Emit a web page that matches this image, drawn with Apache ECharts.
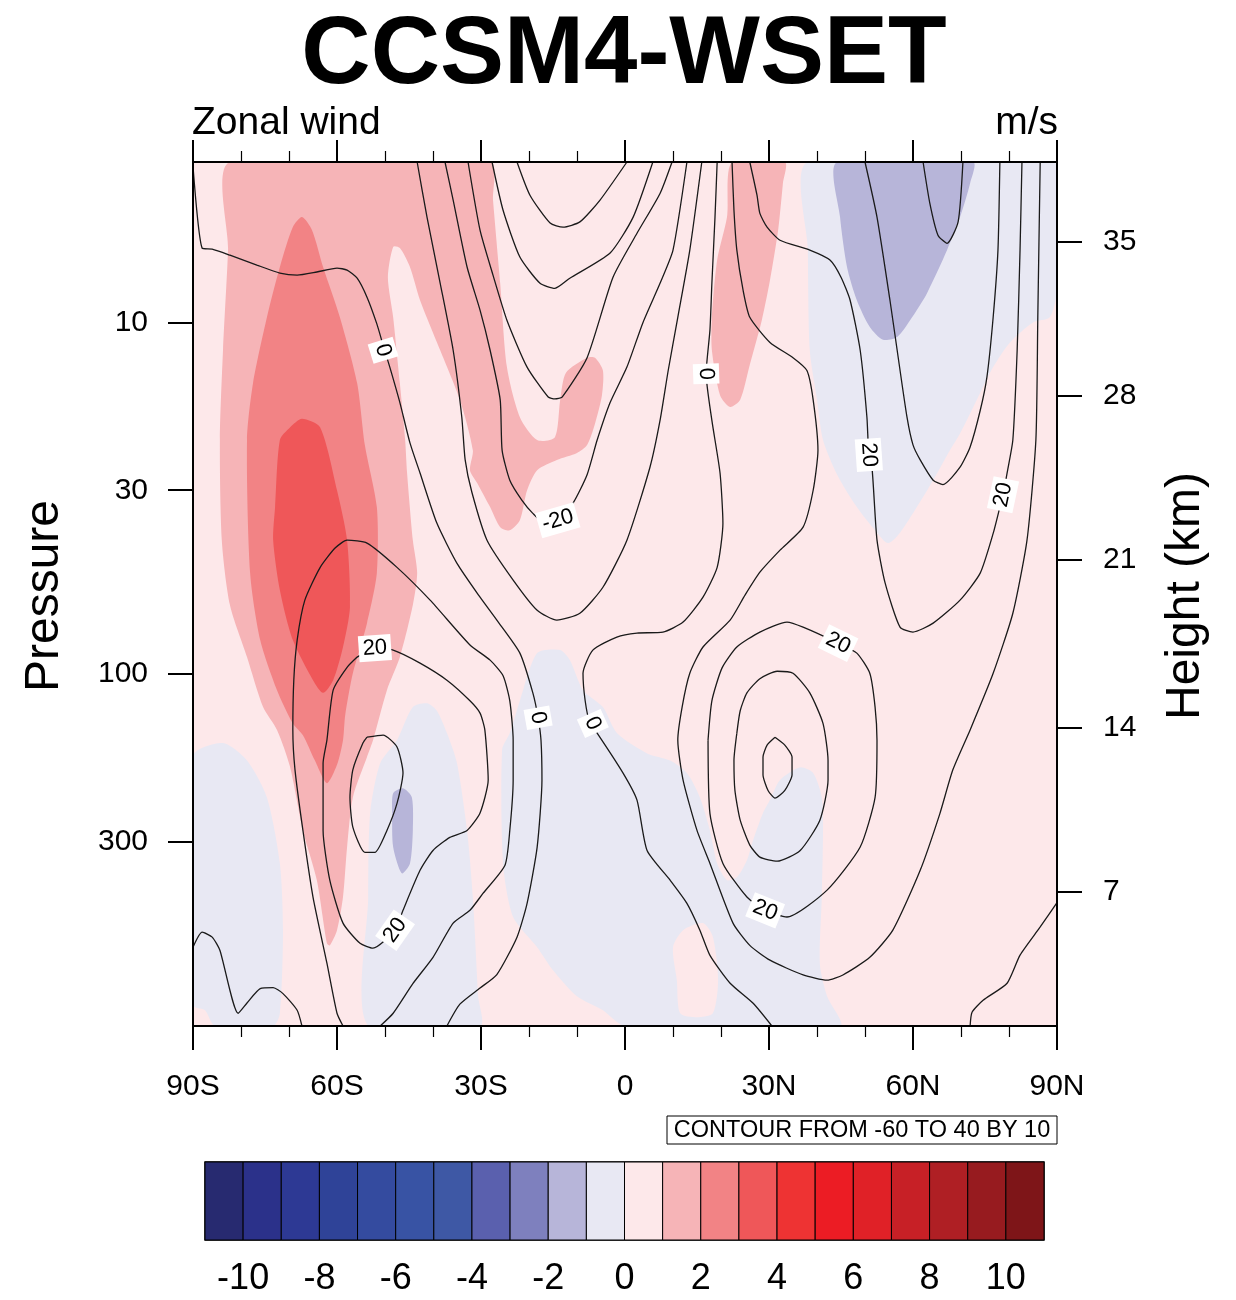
<!DOCTYPE html>
<html><head><meta charset="utf-8">
<script src="https://cdn.jsdelivr.net/npm/echarts@6/dist/echarts.min.js"></script>
<style>html,body{margin:0;padding:0;background:#fff}#c{width:1236px;height:1300px}</style>
</head><body><div id="c"></div>
<script>
// ---------- axes / tick labels ----------
const latTicks = [-90, -60, -30, 0, 30, 60, 90];
const latTickLabels = ['90S', '60S', '30S', '0', '30N', '60N', '90N'];
const pressureTicks = [10, 30, 100, 300];
const heightTicks = [7, 14, 21, 28, 35];
const heightTickPressures = [414, 142, 47.4, 16.2, 5.88];
const colorbarLevels = [-11,-10,-9,-8,-7,-6,-5,-4,-3,-2,-1,0,1,2,3,4,5,6,7,8,9,10,11];
const colorbarLabels = [-10,-8,-6,-4,-2,0,2,4,6,8,10];
const fillColors = ['#272A70','#2B318A','#2D3994','#2F4398','#344B9F','#3853A4','#3E58A5','#5A60AE','#7E80BE','#B7B5D9','#E8E8F3',
                    '#FDE8EA','#F6B4B7','#F28385','#EF5759','#EE3333','#EC1C24','#E02127','#C72026','#AF1F24','#971B1F','#7E1518'];

// ---------- filled regions [lat, hPa] ----------
const fillPinkSH = [[-82.3,3.5],[-28.1,3.5],[-27.5,4.49],[-26.0,7.74],[-24.6,13.4],[-21.9,18.6],[-18.3,21.6],[-14.6,21.2],[-13.5,16.6],[-12.3,13.9],[-7.9,12.6],[-6.25,12.6],[-4.6,13.7],[-4.8,16.1],[-6.25,19.4],[-7.9,22.3],[-10,23.5],[-14.2,24.6],[-18.3,26.3],[-20.4,30.0],[-21.9,36.5],[-24.0,39.0],[-26.0,38.2],[-28.1,33.5],[-30.8,28.6],[-32.3,26.3],[-31.7,23.1],[-34.4,16.6],[-38.5,12.0],[-42.7,8.65],[-44.8,6.96],[-46.9,6.15],[-48.3,6.1],[-49.4,7.44],[-48.3,9.67],[-46.9,14.9],[-45.8,21.6],[-45.4,26.8],[-44.2,41.6],[-43.3,51.6],[-44.2,63.6],[-46.9,89.4],[-49.6,111],[-52.5,154],[-53.75,172],[-56.7,224],[-57.9,310],[-58.75,430],[-60,534],[-61.5,590],[-62.1,582],[-64.2,385],[-67.1,278],[-69.8,183],[-72.5,144],[-75.4,124],[-78.75,89.4],[-82.3,63.6],[-84.0,41.6],[-84.4,21.6],[-83.75,12.0],[-82.7,6.23]];
const fillPinkNH = [[22.3,3.5],[33.3,3.5],[32.9,4.02],[31.9,5.47],[30.2,7.59],[28.5,9.86],[26,13.2],[24,16.6],[21.9,17.4],[19.8,16.1],[18.1,12.0],[18.1,9.67],[19.2,6.65],[21.25,5.02]];
const fillSalmonSH = [[-67.3,5.02],[-65.2,5.47],[-62.9,6.96],[-59.4,9.67],[-55.8,14.9],[-54.2,22.3],[-51.7,33.5],[-51.7,51.6],[-53.75,71.6],[-56.7,99.4],[-58.3,131],[-58.75,154],[-60,181],[-62.1,204],[-64.6,176],[-67.1,149],[-69.2,138],[-72.5,111],[-76.0,80.0],[-78.1,51.6],[-78.75,21.6],[-77.5,14.9],[-74.6,9.67],[-71.9,6.96],[-69.2,5.36]];
const fillRedSH = [[-67.3,18.8],[-63.5,19.9],[-60,30.0],[-57.9,41.6],[-57.3,64.5],[-58.75,83.7],[-60.8,104],[-62.9,113],[-65,104],[-69.2,80.0],[-71.9,57.7],[-73.3,41.6],[-72.9,33.5],[-71.9,21.6],[-69.8,19.9]];
const fillLavSHpolar = [[-90,171],[-83.75,157],[-78.75,176],[-74.6,224],[-71.9,345],[-71.25,534],[-71.9,920],[-73.3,1000],[-85.4,1000],[-87.5,902],[-90,873]];
const fillLavSHmid = [[-51,179],[-47.5,154],[-44.2,124],[-41.25,121],[-39.2,127],[-37.1,147],[-35,179],[-32.9,278],[-31.7,430],[-30.6,823],[-30.2,1000],[-53.5,1000],[-53.5,430],[-53.1,249]];
const fillLavTrop = [[-18.3,87.1],[-13.5,85.4],[-11.5,91.2],[-8.75,111],[-4.6,124],[-1.7,147],[4.6,168],[9.4,176],[12.9,191],[15.6,224],[17.7,278],[19.2,345],[21.25,385],[23.3,378],[25.4,338],[26.7,296],[28.75,248],[30.2,228],[32.3,200],[36.5,184],[39.2,191],[41,224],[41.25,278],[41,430],[40.6,667],[42.1,823],[44.8,1000],[0,1000],[-4.6,902],[-10,823],[-15,694],[-18.3,597],[-23.3,490],[-25.4,345],[-25.6,164],[-24,147],[-21.9,119]];
const fillPinkBlob = [[10,597],[12.1,534],[16.25,510],[18.3,558],[19.4,741],[18.3,920],[15,944],[11.5,920],[10.8,741]];
const fillLavNH = [[38.1,3.5],[90,3.5],[90,8.10],[88.5,9.67],[85,10.0],[80.2,11.4],[76.7,13.4],[73.3,16.6],[69.8,20.7],[67.7,23.1],[64.2,28.1],[60.8,33.5],[57.3,39.6],[54.8,42.4],[52.5,39.6],[48.3,33.5],[44.2,27.1],[41.25,21.6],[40,16.6],[38.5,12.0],[38.1,6.23]];
const fillDarkLavNH = [[44.2,3.5],[72.5,3.5],[71.9,4.02],[69.8,5.02],[67.1,6.23],[62.9,8.27],[59.4,9.86],[56.7,11.0],[53.75,11.2],[51,10.3],[48.3,8.65],[46.25,6.96],[44.8,5.02]];
const fillDarkLavSH = [[-48.3,218],[-46.25,211],[-44.4,224],[-44.2,278],[-44.8,345],[-46.5,368],[-48.3,310],[-48.5,249]];

// ---------- contour lines [lat, hPa] ----------
const c0SH = [[-90,3.6],[-88.1,6.15],[-86,6.19],[-82.3,6.44],[-76.7,6.87],[-71.9,7.24],[-68.3,7.34],[-64.2,7.19],[-60,7.01],[-57.9,7.10],[-55.8,7.49],[-53.75,8.48],[-51.7,10.1],[-50.4,11.6],[-49,13.4],[-46.9,16.9],[-44.8,22.0],[-42.7,26.8],[-39.2,37.2],[-35,48.4],[-30.2,60.4],[-26.7,70.2],[-21.9,87.1],[-19.2,113],[-18.1,133],[-17.5,154],[-17.3,200],[-18.3,310],[-20.4,448],[-22.5,559],[-26.7,714],[-30.2,780],[-34.4,867],[-37.1,1000]];
const cm10 = [[-43.3,3.5],[-41.25,5.02],[-38.5,7.74],[-35.8,12.0],[-34,18.6],[-33.3,24.6],[-31.9,30.4],[-28.75,41.6],[-23.3,54.0],[-18.3,65.8],[-14.2,70.2],[-9.4,67.1],[-4.6,56.6],[0.4,41.6],[5.2,25.8],[7.3,19.0],[9,13.7],[11,9.67],[13.5,6.23],[16,3.5]];
const cm20 = [[-37.5,3.5],[-35.8,4.49],[-32.9,6.96],[-30.2,9.23],[-28.1,12.0],[-26,16.6],[-25.6,23.1],[-24,28.1],[-21.5,32.0],[-19.2,34.9],[-16.7,37.2],[-14,36.5],[-10.8,32.6],[-7.9,27.1],[-5.8,21.6],[-3.1,16.9],[0.4,13.4],[3.75,10.0],[7.3,7.74],[10,6.23],[12.9,3.5]];
const cm30 = [[-32.7,3.5],[-30.2,5.47],[-27.5,7.34],[-24.6,9.86],[-20.4,13.4],[-16,16.3],[-14.6,16.5],[-13.1,16.3],[-7.9,12.6],[-2.5,7.44],[2.5,5.58],[7.3,4.30],[9.8,3.5]];
const cm40 = [[-27.7,3.5],[-25.4,4.80],[-21.9,6.52],[-17.7,7.74],[-14.6,8.0],[-11.5,7.49],[-3.1,6.35],[1.7,5.02],[5.8,3.5]];
const cm50 = [[-22.5,3.5],[-19.8,4.35],[-15.6,5.22],[-12.9,5.36],[-9.4,5.18],[-5.2,4.49],[0.4,3.5]];
const c0Trop = [[19.2,3.5],[18.75,5.02],[18.1,7.74],[17.7,10.5],[16.9,14.0],[18.1,19.0],[19.8,26.8],[20.4,37.3],[19.2,49.7],[16.25,60.4],[12.1,71.1],[7.9,75.9],[2.5,76.4],[-1.7,78.4],[-6.7,85.4],[-8.75,99.4],[-8.3,119],[-7.3,138],[-5.8,147],[-0.4,191],[2.5,228],[4.6,317],[9.4,385],[12.9,448],[15.6,534],[17.7,630],[21.9,756],[26.7,862],[30.6,1000]];
const c10SH = [[-58.75,1000],[-60,920],[-62.1,663],[-65,430],[-67.1,278],[-68.75,187],[-69.2,144],[-69,104],[-68.3,80.0],[-66.7,61.6],[-63.5,49.7],[-60.4,43.8],[-57.9,41.6],[-53.75,42.4],[-47.5,49.7],[-40.6,61.6],[-32.3,82.6],[-28.1,91.2],[-25.4,101],[-24,119],[-23.3,154],[-23.3,200],[-24,278],[-25,349],[-29.6,420],[-32.3,469],[-35.8,510],[-40,638],[-44.2,758],[-48.3,920],[-51,1000]];
const c20SH = [[-55.8,89.4],[-52.1,84.3],[-48.3,85.4],[-42.7,93.0],[-37.1,104],[-32.3,119],[-30.2,129],[-29.2,144],[-28.5,200],[-30.2,248],[-32.9,278],[-36.5,291],[-40,317],[-42.7,361],[-46.25,469],[-47.9,534],[-52.5,601],[-55.2,582],[-58.75,510],[-61.5,385],[-62.9,278],[-62.9,179],[-62.1,154],[-60.8,111],[-57.9,95.6],[-55.8,89.4]];
const c30SH = [[-53.75,151],[-50.4,149],[-47.5,161],[-46.25,191],[-47.5,233],[-49.6,278],[-52.1,321],[-54.2,321],[-56.7,272],[-57.3,224],[-56.7,187],[-54.6,157],[-53.75,151]];
const c0SHpolar = [[-90,597],[-88.1,541],[-86,559],[-84.4,609],[-80.6,920],[-78.75,860],[-76,783],[-73.3,778],[-71.25,809],[-68.3,902],[-67.3,1000]];
const c40NH = [[31.25,151],[33.3,159],[34.8,172],[34.8,193],[33.3,214],[31.25,225],[29.8,214],[28.75,193],[28.75,172],[29.6,159],[31.25,151]];
const c30NH = [[23.3,147],[24,127],[25.4,113],[28.1,103],[31.7,98.1],[35,99.4],[38.5,113],[41.25,138],[42.3,176],[42.3,200],[40.6,260],[36.5,317],[31.7,340],[28.1,331],[26,306],[24,260],[22.9,214],[22.7,176],[23.3,147]];
const c20NH = [[17.3,154],[18.1,119],[20.2,96.1],[23.3,83.7],[28.1,75.9],[33.75,71.1],[37.1,73.5],[44.4,81.6],[48.3,87.1],[51,99.4],[52.1,124],[52.5,154],[52.1,224],[49,310],[42.1,411],[33.75,490],[29.2,469],[25.4,430],[20.4,345],[17.7,249],[17.3,154]];
const c10NH = [[22.3,3.5],[22.7,4.80],[23.3,6.23],[24.6,8.10],[26,9.67],[30.2,11.4],[35,12.6],[37.9,13.7],[39.2,16.6],[40.2,23.1],[39.2,30.0],[37.1,38.2],[32.3,44.4],[28.1,51.3],[25,59.6],[21.9,70.2],[16.25,83.7],[13.5,99.4],[11.9,124],[11,154],[12.1,200],[15,278],[17.7,345],[22.5,510],[26,590],[30.2,650],[37.1,716],[42.1,741],[45.4,716],[51,638],[55.8,534],[61.5,361],[65.6,249],[68.3,187],[71.9,144],[76.7,99.4],[80.8,67.1],[83.75,41.6],[85.6,21.6],[86,9.67],[86.5,3.5]];
const c20NHpolar = [[26,3.5],[27.5,4.35],[28.1,4.90],[29.6,5.36],[32.3,5.84],[38.5,6.23],[42.7,6.65],[45,7.44],[46.9,8.65],[49,12.0],[50.4,18.6],[50.8,23.8],[51.5,26.3],[52.5,41.6],[54.2,55.1],[57.3,73.5],[60,75.9],[64.2,71.6],[69.8,61.6],[74,51.6],[76.7,39.8],[78.1,33.5],[78.75,30.9],[79.6,26.8],[80.8,21.6],[81.7,12.0],[82.3,6.23],[82.7,3.5]];
const c30NHpolar = [[50,3.5],[52.5,5.02],[55.2,8.65],[56.7,12.0],[58.75,18.6],[60,22.3],[61.5,24.6],[64.2,28.1],[66.25,28.9],[69.8,25.8],[71.9,22.6],[74,17.8],[75.4,14.3],[76.7,9.67],[77.7,6.23],[78.1,3.5]];
const c40NHpolar = [[62.1,3.5],[63.5,4.58],[65.2,5.65],[67.1,5.96],[69.4,5.18],[70.4,3.5]];
const c0NHpolar = [[90,446],[86.5,523],[82.3,629],[79.6,756],[74.6,845],[72.3,914],[71.9,1000]];

// ---------- contour labels ----------
const contourLabelText = ['0','0','-20','20','0','0','20','20','20','20','20'];
const contourLabelLat = [-50.4, 16.9, -14, -52.1, -18.1, -6.7, 50.8, 78.75, 44.4, 29.2, -47.9];
const contourLabelP = [12.0, 14.0, 36.5, 84.3, 133, 138, 23.8, 30.9, 81.6, 469, 534];

// ---------- build chart ----------
const FONT = '"Liberation Sans", Arial, Helvetica, sans-serif';
const labelAngles = [-73, -88, 16, 4, -80, -66, -86, 78, -26, -22, 55];
const fillRegions = [
  [fillPinkSH, 1], [fillPinkNH, 1], [fillSalmonSH, 2], [fillRedSH, 3],
  [fillLavSHpolar, -1], [fillLavSHmid, -1], [fillLavTrop, -1], [fillPinkBlob, 0],
  [fillLavNH, -1], [fillDarkLavNH, -2], [fillDarkLavSH, -2]
];
const contourLines = [c0SH, cm10, cm20, cm30, cm40, cm50, c0Trop, c10SH, c20SH, c30SH, c0SHpolar,
  c40NH, c30NH, c20NH, c10NH, c20NHpolar, c30NHpolar, c40NHpolar, c0NHpolar];
const colorOf = lvl => fillColors[lvl + 11];

const chart = echarts.init(document.getElementById('c'), null, {renderer: 'canvas'});

const series = [];
series.push({
  type: 'custom', xAxisIndex: 0, yAxisIndex: 0, clip: true, silent: true, z: 1, animation: false,
  data: fillRegions.map(() => [0, 100]),
  renderItem: (params, api) => {
    const r = fillRegions[params.dataIndex];
    return { type: 'polygon', shape: { points: r[0].map(p => api.coord(p)), smooth: 0.25 },
             style: { fill: colorOf(r[1]) } };
  }
});
contourLines.forEach(pts => series.push({
  type: 'line', xAxisIndex: 0, yAxisIndex: 0, data: pts, smooth: 0.2, showSymbol: false, symbol: 'none',
  silent: true, animation: false, z: 3, clip: true,
  lineStyle: { color: '#1a1a1a', width: 1.3 }
}));
series.push({
  type: 'custom', xAxisIndex: 0, yAxisIndex: 0, silent: true, z: 5, animation: false,
  data: contourLabelText.map((t, i) => [contourLabelLat[i], contourLabelP[i]]),
  renderItem: (params, api) => {
    const i = params.dataIndex;
    const pt = api.coord([contourLabelLat[i], contourLabelP[i]]);
    return { type: 'text', x: pt[0], y: pt[1], rotation: labelAngles[i] * Math.PI / 180,
      style: { text: contourLabelText[i], fontSize: 22, fontFamily: FONT, fill: '#000',
               backgroundColor: '#fff', padding: [2, 4], align: 'center', verticalAlign: 'middle' } };
  }
});
series.push({
  type: 'custom', xAxisIndex: 2, yAxisIndex: 2, silent: true, animation: false,
  data: fillColors.map((c, i) => [colorbarLevels[i], 0]),
  renderItem: (params, api) => {
    const i = params.dataIndex;
    const a = api.coord([colorbarLevels[i], 1]);
    const b = api.coord([colorbarLevels[i + 1], 0]);
    return { type: 'rect', shape: { x: a[0], y: a[1], width: b[0] - a[0], height: b[1] - a[1] },
             style: { fill: fillColors[i], stroke: '#000', lineWidth: 1 } };
  }
});

const axisLineStyle = { show: true, onZero: false, lineStyle: { color: '#000', width: 2 } };
const heightLabel = v => {
  let best = 0;
  heightTickPressures.forEach((p, i) => {
    if (Math.abs(Math.log(p / v)) < Math.abs(Math.log(heightTickPressures[best] / v))) best = i;
  });
  return String(heightTicks[best]);
};

chart.setOption({
  animation: false,
  backgroundColor: '#fff',
  grid: [
    { left: 193, top: 162, width: 864, height: 864, show: true, backgroundColor: fillColors[11], borderWidth: 0 },
    { left: 205, top: 1162, width: 839, height: 78, show: true, backgroundColor: 'transparent', borderColor: '#000', borderWidth: 1.5 }
  ],
  xAxis: [
    { gridIndex: 0, type: 'value', position: 'bottom', min: -90, max: 90, interval: 30, z: 10,
      axisLine: axisLineStyle,
      axisTick: { show: true, inside: false, length: 24, lineStyle: { color: '#000', width: 2 } },
      minorTick: { show: true, splitNumber: 3, length: 11, lineStyle: { color: '#000', width: 1.2 } },
      splitLine: { show: false },
      axisLabel: { fontSize: 30, margin: 46, color: '#000', fontFamily: FONT,
                   formatter: v => latTickLabels[latTicks.indexOf(Math.round(v))] } },
    { gridIndex: 0, type: 'value', position: 'top', min: -90, max: 90, interval: 30, z: 10,
      axisLine: axisLineStyle,
      axisTick: { show: true, inside: false, length: 22, lineStyle: { color: '#000', width: 2 } },
      minorTick: { show: true, splitNumber: 3, length: 11, lineStyle: { color: '#000', width: 1.2 } },
      splitLine: { show: false }, axisLabel: { show: false } },
    { gridIndex: 1, type: 'value', min: -11, max: 11,
      axisLine: { show: false }, axisTick: { show: false }, splitLine: { show: false },
      axisLabel: { customValues: colorbarLabels, fontSize: 36, margin: 21, color: '#000', fontFamily: FONT } }
  ],
  yAxis: [
    { gridIndex: 0, type: 'log', logBase: 10, min: 3.5, max: 1000, inverse: true, position: 'left', z: 10,
      axisLine: axisLineStyle,
      axisTick: { show: true, inside: false, length: 25, customValues: pressureTicks, lineStyle: { color: '#000', width: 2 } },
      splitLine: { show: false }, minorTick: { show: false },
      axisLabel: { customValues: pressureTicks, fontSize: 30, margin: 45, color: '#000', fontFamily: FONT,
                   formatter: v => String(Math.round(v)) } },
    { gridIndex: 0, type: 'log', logBase: 10, min: 3.5, max: 1000, inverse: true, position: 'right', z: 10,
      axisLine: axisLineStyle,
      axisTick: { show: true, inside: false, length: 25, customValues: heightTickPressures, lineStyle: { color: '#000', width: 2 } },
      splitLine: { show: false }, minorTick: { show: false },
      axisLabel: { customValues: heightTickPressures, fontSize: 30, margin: 46, color: '#000', fontFamily: FONT,
                   formatter: heightLabel } },
    { gridIndex: 1, type: 'value', min: 0, max: 1, show: false }
  ],
  graphic: [
    { type: 'text', x: 624, y: 57, style: { text: 'CCSM4-WSET', fontSize: 96, fontWeight: 'bold', fontFamily: FONT, fill: '#000', align: 'center', verticalAlign: 'middle' } },
    { type: 'text', x: 192, y: 123, style: { text: 'Zonal wind', fontSize: 39, fontFamily: FONT, fill: '#000', align: 'left', verticalAlign: 'middle' } },
    { type: 'text', x: 1058, y: 123, style: { text: 'm/s', fontSize: 39, fontFamily: FONT, fill: '#000', align: 'right', verticalAlign: 'middle' } },
    { type: 'text', x: 45, y: 596, rotation: Math.PI / 2, style: { text: 'Pressure', fontSize: 48, fontFamily: FONT, fill: '#000', align: 'center', verticalAlign: 'middle' } },
    { type: 'text', x: 1186, y: 596, rotation: Math.PI / 2, style: { text: 'Height (km)', fontSize: 48, fontFamily: FONT, fill: '#000', align: 'center', verticalAlign: 'middle' } },
    { type: 'rect', shape: { x: 667, y: 1116, width: 390, height: 28 }, style: { fill: '#fff', stroke: '#000', lineWidth: 1 } },
    { type: 'text', x: 862, y: 1131, style: { text: 'CONTOUR FROM -60 TO 40 BY 10', fontSize: 23.5, fontFamily: FONT, fill: '#000', align: 'center', verticalAlign: 'middle' } }
  ],
  series: series
});
</script></body></html>
